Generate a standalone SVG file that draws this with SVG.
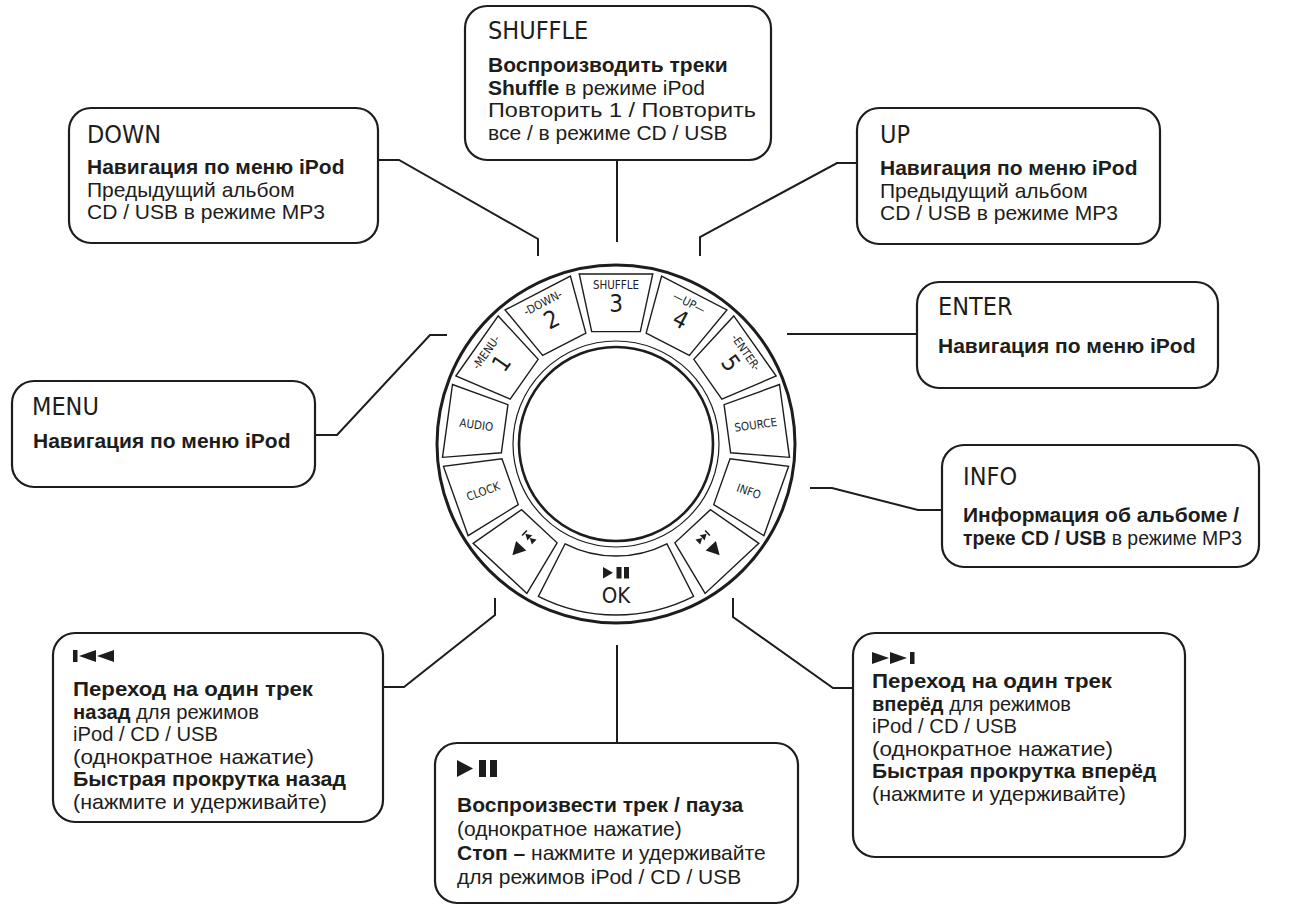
<svg xmlns="http://www.w3.org/2000/svg" xmlns:xlink="http://www.w3.org/1999/xlink" width="1289" height="907" viewBox="0 0 1289 907">
<style>
.box{fill:#fff;stroke:#1d1d1b;stroke-width:2.2}
.ttl{font-family:'DejaVu Sans Condensed','DejaVu Sans',sans-serif;font-stretch:condensed;font-size:25px;fill:#1d1d1b}
.bd{font-family:'Liberation Sans',Arial,sans-serif;font-size:21px;fill:#1d1d1b}
.b{font-weight:bold}
.con{fill:none;stroke:#1d1d1b;stroke-width:2}
.btn{fill:#fff;stroke:#1d1d1b;stroke-width:1.4}
.dl{font-family:'DejaVu Sans Condensed','DejaVu Sans',sans-serif;font-stretch:condensed;font-size:11.5px;fill:#1d1d1b;text-anchor:middle}
.dg{font-family:'DejaVu Sans Condensed','DejaVu Sans',sans-serif;font-stretch:condensed;font-size:24px;font-weight:300;fill:#1d1d1b;text-anchor:middle}
.ic{fill:#1d1d1b}
</style>
<defs>
<path id="sb" d="M-36.77,-170.07 L36.77,-170.07 L24.3,-112.4 L-24.3,-112.4 Z"/>
</defs>
<rect width="1289" height="907" fill="#fff"/>

<g id="connectors">
<polyline class="con" points="378,160 399,160 538,239 538,256"/>
<polyline class="con" points="617,160 617,242"/>
<polyline class="con" points="857,163 837,163 700,237 700,256"/>
<polyline class="con" points="787,334 917,334"/>
<polyline class="con" points="315,435 337,435 430,335 447,335"/>
<polyline class="con" points="810,488 832,488 918,510 942,510"/>
<polyline class="con" points="383,687 404,687 495,615 495,598"/>
<polyline class="con" points="617,645 617,743"/>
<polyline class="con" points="853,688 833,688 733,617 733,598"/>
</g>

<g id="dial">
<circle cx="616" cy="444" r="179" fill="#fff" stroke="#1d1d1b" stroke-width="3"/>
<circle cx="616" cy="444" r="103" fill="none" stroke="#1d1d1b" stroke-width="1.2"/>
<circle cx="616" cy="444" r="97" fill="none" stroke="#1d1d1b" stroke-width="2.6"/>
<use href="#sb" class="btn" transform="translate(616 444) rotate(0)"/>
<use href="#sb" class="btn" transform="translate(616 444) rotate(27.4)"/>
<use href="#sb" class="btn" transform="translate(616 444) rotate(54.8)"/>
<use href="#sb" class="btn" transform="translate(616 444) rotate(82.2)"/>
<use href="#sb" class="btn" transform="translate(616 444) rotate(109.6)"/>
<use href="#sb" class="btn" transform="translate(616 444) rotate(137)"/>
<use href="#sb" class="btn" transform="translate(616 444) rotate(-27.4)"/>
<use href="#sb" class="btn" transform="translate(616 444) rotate(-54.8)"/>
<use href="#sb" class="btn" transform="translate(616 444) rotate(-82.2)"/>
<use href="#sb" class="btn" transform="translate(616 444) rotate(-109.6)"/>
<use href="#sb" class="btn" transform="translate(616 444) rotate(-137)"/>
<path class="btn" transform="translate(616 444)" d="M-50.85,99.79 L-77.63,152.36 A171,171 0 0 0 77.63,152.36 L50.85,99.79 A112,112 0 0 1 -50.85,99.79 Z"/>

<g transform="rotate(0 616 444)"><text class="dl" x="616" y="289">SHUFFLE</text><text class="dg" x="616" y="312">3</text></g>
<g transform="rotate(27.4 616 444)"><text class="dl" x="616" y="289">—UP—</text><text class="dg" x="616" y="312">4</text></g>
<g transform="rotate(54.8 616 444)"><text class="dl" x="616" y="289">-ENTER-</text><text class="dg" x="616" y="312">5</text></g>
<g transform="rotate(-27.4 616 444)"><text class="dl" x="616" y="289">-DOWN-</text><text class="dg" x="616" y="312">2</text></g>
<g transform="rotate(-54.8 616 444)"><text class="dl" x="616" y="289">-MENU-</text><text class="dg" x="616" y="312">1</text></g>
<g transform="rotate(7.8 616 444)"><text class="dl" x="475" y="448">AUDIO</text></g>
<g transform="rotate(-19.6 616 444)"><text class="dl" x="475" y="448">CLOCK</text></g>
<g transform="rotate(-7.8 616 444)"><text class="dl" x="757" y="448">SOURCE</text></g>
<g transform="rotate(19.6 616 444)"><text class="dl" x="757" y="448">INFO</text></g>
<g transform="rotate(43 616 444)">
<rect class="ic" x="609" y="568" width="1.6" height="7"/>
<polygon class="ic" points="611,571.5 617,568 617,575"/>
<polygon class="ic" points="617,571.5 623,568 623,575"/>
<polygon class="ic" points="609,583 623,583 616,596"/>
</g>
<g transform="rotate(-43 616 444)">
<polygon class="ic" points="609,568 609,575 615,571.5"/>
<polygon class="ic" points="615,568 615,575 621,571.5"/>
<rect class="ic" x="621.4" y="568" width="1.6" height="7"/>
<polygon class="ic" points="609,583 623,583 616,596"/>
</g>
<polygon class="ic" points="603,567 603,578.5 613,572.75"/>
<rect class="ic" x="616.5" y="567" width="5" height="11.5"/>
<rect class="ic" x="624" y="567" width="5" height="11.5"/>
<text class="dg" x="616" y="603" style="font-size:22px">OK</text>
</g>

<g id="node-shuffle">
<rect class="box" x="465" y="6" width="306" height="154" rx="22"/>
<text class="ttl" x="488" y="39">SHUFFLE</text>
<text class="bd" x="488" y="72"><tspan class="b">Воспроизводить треки</tspan></text>
<text class="bd" x="488" y="94.5"><tspan class="b">Shuffle</tspan> в режиме iPod</text>
<text class="bd" x="488" y="117" textLength="268" lengthAdjust="spacingAndGlyphs">Повторить 1 / Повторить</text>
<text class="bd" x="488" y="139.5">все / в режиме CD / USB</text>
</g>

<g id="node-down">
<rect class="box" x="69" y="108" width="309" height="135" rx="22"/>
<text class="ttl" x="87" y="143">DOWN</text>
<text class="bd" x="87" y="174"><tspan class="b">Навигация по меню iPod</tspan></text>
<text class="bd" x="87" y="196.5">Предыдущий альбом</text>
<text class="bd" x="87" y="219">CD / USB в режиме MP3</text>
</g>

<g id="node-up">
<rect class="box" x="857" y="108" width="303" height="136" rx="22"/>
<text class="ttl" x="880" y="143">UP</text>
<text class="bd" x="880" y="175"><tspan class="b">Навигация по меню iPod</tspan></text>
<text class="bd" x="880" y="197.5">Предыдущий альбом</text>
<text class="bd" x="880" y="220">CD / USB в режиме MP3</text>
</g>

<g id="node-enter">
<rect class="box" x="917" y="282" width="301" height="106" rx="22"/>
<text class="ttl" x="938" y="315">ENTER</text>
<text class="bd" x="938" y="353"><tspan class="b">Навигация по меню iPod</tspan></text>
</g>

<g id="node-menu">
<rect class="box" x="12" y="381" width="303" height="106" rx="22"/>
<text class="ttl" x="32" y="415">MENU</text>
<text class="bd" x="33" y="448"><tspan class="b">Навигация по меню iPod</tspan></text>
</g>

<g id="node-info">
<rect class="box" x="942" y="445" width="317" height="122" rx="22"/>
<text class="ttl" x="963" y="485">INFO</text>
<text class="bd" x="963" y="522"><tspan class="b">Информация об альбоме /</tspan></text>
<text class="bd" x="963" y="545" textLength="279" lengthAdjust="spacingAndGlyphs"><tspan class="b">треке CD / USB</tspan> в режиме MP3</text>
</g>

<g id="node-prev">
<rect class="box" x="53" y="633" width="330" height="189" rx="22"/>
<rect class="ic" x="73" y="650" width="4.5" height="12"/>
<polygon class="ic" points="79,656 96,650 96,662"/>
<polygon class="ic" points="97,656 114,650 114,662"/>
<text class="bd" x="73" y="696" textLength="240" lengthAdjust="spacingAndGlyphs"><tspan class="b">Переход на один трек</tspan></text>
<text class="bd" x="73" y="718.5" textLength="186" lengthAdjust="spacingAndGlyphs"><tspan class="b">назад</tspan> для режимов</text>
<text class="bd" x="73" y="741" textLength="145" lengthAdjust="spacingAndGlyphs">iPod / CD / USB</text>
<text class="bd" x="73" y="763.5" textLength="241" lengthAdjust="spacingAndGlyphs">(однократное нажатие)</text>
<text class="bd" x="73" y="786" textLength="273" lengthAdjust="spacingAndGlyphs"><tspan class="b">Быстрая прокрутка назад</tspan></text>
<text class="bd" x="73" y="808.5" textLength="254" lengthAdjust="spacingAndGlyphs">(нажмите и удерживайте)</text>
</g>

<g id="node-play">
<rect class="box" x="435" y="743" width="363" height="160" rx="22"/>
<polygon class="ic" points="457,760 457,777 473,768.5"/>
<rect class="ic" x="479" y="760" width="7" height="17"/>
<rect class="ic" x="490" y="760" width="7" height="17"/>
<text class="bd" x="457" y="812"><tspan class="b">Воспроизвести трек / пауза</tspan></text>
<text class="bd" x="457" y="836">(однократное нажатие)</text>
<text class="bd" x="457" y="860"><tspan class="b">Стоп –</tspan> нажмите и удерживайте</text>
<text class="bd" x="457" y="884">для режимов iPod / CD / USB</text>
</g>

<g id="node-next">
<rect class="box" x="853" y="633" width="332" height="224" rx="22"/>
<polygon class="ic" points="872,652 872,664 889,658"/>
<polygon class="ic" points="890,652 890,664 907,658"/>
<rect class="ic" x="910" y="652" width="4.5" height="12"/>
<text class="bd" x="872" y="688" textLength="240" lengthAdjust="spacingAndGlyphs"><tspan class="b">Переход на один трек</tspan></text>
<text class="bd" x="872" y="710.5" textLength="199" lengthAdjust="spacingAndGlyphs"><tspan class="b">вперёд</tspan> для режимов</text>
<text class="bd" x="872" y="733" textLength="145" lengthAdjust="spacingAndGlyphs">iPod / CD / USB</text>
<text class="bd" x="872" y="755.5" textLength="241" lengthAdjust="spacingAndGlyphs">(однократное нажатие)</text>
<text class="bd" x="872" y="778"><tspan class="b">Быстрая прокрутка вперёд</tspan></text>
<text class="bd" x="872" y="800.5" textLength="254" lengthAdjust="spacingAndGlyphs">(нажмите и удерживайте)</text>
</g>
</svg>
